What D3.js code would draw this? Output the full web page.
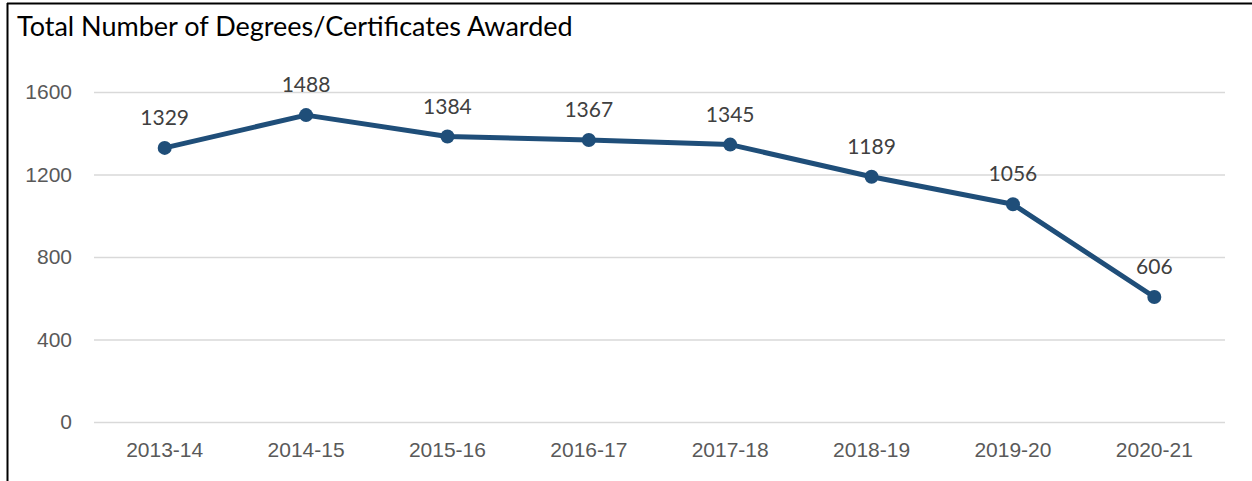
<!DOCTYPE html>
<html>
<head>
<meta charset="utf-8">
<script src="https://cdn.jsdelivr.net/npm/d3@7"></script>
<style>
  html, body { margin: 0; padding: 0; background: #fff; }
  svg { display: block; font-family: Lato, "Open Sans", "Liberation Sans", sans-serif; }
</style>
</head>
<body>
<svg id="chart" width="1252" height="481"></svg>
<script>
// Academic years and total awards per year
const years = ["2013-14", "2014-15", "2015-16", "2016-17", "2017-18", "2018-19", "2019-20", "2020-21"];
const awards = [1329, 1488, 1384, 1367, 1345, 1189, 1056, 606];
const yTicks = [0, 400, 800, 1200, 1600];
const title = "Total Number of Degrees/Certificates Awarded";

const svg = d3.select("#chart");
const W = 1252, H = 481;
const plot = { left: 94, right: 1225, top: 92, bottom: 422 };

// Frame
svg.append("line").attr("x1", 7).attr("x2", W).attr("y1", 3.5).attr("y2", 3.5)
  .attr("stroke", "#000").attr("stroke-width", 2);
svg.append("line").attr("x1", 7.5).attr("x2", 7.5).attr("y1", 3).attr("y2", H)
  .attr("stroke", "#000").attr("stroke-width", 2);

const x = d3.scaleBand().domain(years).range([plot.left, plot.right]);
const y = d3.scaleLinear().domain([0, 1600]).range([plot.bottom, plot.top]);

// Horizontal gridlines
const yAxis = d3.axisLeft(y).tickValues(yTicks).tickFormat(d3.format("d"))
  .tickSize(-(plot.right - plot.left)).tickPadding(22);
const gy = svg.append("g").attr("transform", `translate(${plot.left},0)`).call(yAxis);
gy.select(".domain").remove();
gy.selectAll(".tick line").attr("stroke", "#d9d9d9").attr("stroke-width", 1.5);
gy.selectAll(".tick text").attr("fill", "#595959").style("font-size", "21px");

// Category labels
const xAxis = d3.axisBottom(x).tickSize(0).tickPadding(20);
const gx = svg.append("g").attr("transform", `translate(0,${plot.bottom})`).call(xAxis);
gx.select(".domain").remove();
gx.selectAll(".tick text").attr("fill", "#595959").style("font-size", "21px");

const cx = d => x(d) + x.bandwidth() / 2;

// Series line
const line = d3.line().x((d, i) => cx(years[i])).y(d => y(d));
svg.append("path").datum(awards).attr("d", line)
  .attr("fill", "none").attr("stroke", "#1f4e79").attr("stroke-width", 5)
  .attr("stroke-linejoin", "round");

// Markers
svg.append("g").selectAll("circle").data(awards).join("circle")
  .attr("cx", (d, i) => cx(years[i])).attr("cy", d => y(d)).attr("r", 7)
  .attr("fill", "#1f4e79");

// Value labels
svg.append("g").selectAll("text").data(awards).join("text")
  .attr("x", (d, i) => cx(years[i])).attr("y", d => y(d) - 23)
  .attr("text-anchor", "middle").attr("fill", "#404040").style("font-size", "21px")
  .text(d => d);

// Title
svg.append("text").attr("x", 17).attr("y", 36).attr("fill", "#000")
  .style("font-size", "27px").text(title);
</script>
</body>
</html>
